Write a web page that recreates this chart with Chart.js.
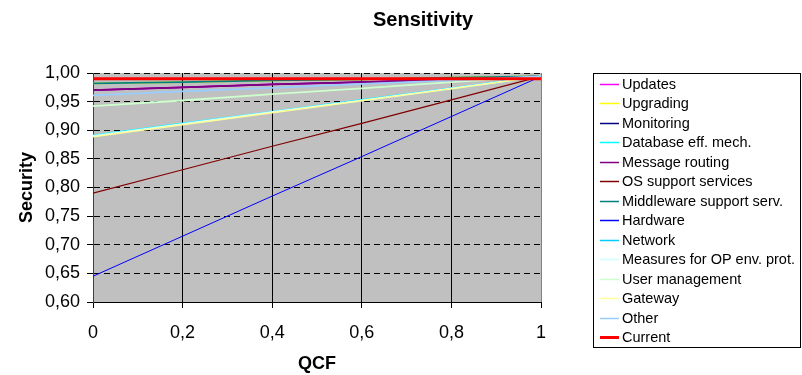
<!DOCTYPE html>
<html>
<head>
<meta charset="utf-8">
<script src="https://cdn.jsdelivr.net/npm/chart.js@4"></script>
<style>
  body { margin: 0; background: #fff; }
  #wrap { width: 802px; height: 375px; position: relative; }
</style>
</head>
<body>
<div id="wrap"><canvas id="sensitivityChart"></canvas></div>
<script>
// QCF positions on the x axis
const qcf = [0, 0.2, 0.4, 0.6, 0.8, 1];

// Security values
const updates = [0.970, 0.975, 0.980, 0.984, 0.989, 0.994];
const upgrading = [0.982, 0.984, 0.987, 0.989, 0.992, 0.994];
const monitoring = [0.970, 0.975, 0.980, 0.984, 0.989, 0.994];
const databaseEff = [0.891, 0.912, 0.932, 0.953, 0.973, 0.994];
const messageRouting = [0.970, 0.975, 0.980, 0.984, 0.989, 0.994];
const osSupport = [0.790, 0.831, 0.872, 0.912, 0.953, 0.994];
const middleware = [0.982, 0.984, 0.987, 0.989, 0.992, 0.994];
const hardware = [0.645, 0.715, 0.785, 0.854, 0.924, 0.994];
const network = [0.890, 0.911, 0.932, 0.952, 0.973, 0.994];
const measuresOp = [0.890, 0.911, 0.932, 0.952, 0.973, 0.994];
const userManagement = [0.942, 0.952, 0.963, 0.973, 0.984, 0.994];
const gateway = [0.8885, 0.9095, 0.9305, 0.9515, 0.9725, 0.994];
const other = [0.961, 0.968, 0.974, 0.981, 0.987, 0.994];
const current = [0.990, 0.990, 0.990, 0.990, 0.990, 0.990];

const seriesNames = ['Updates', 'Upgrading', 'Monitoring', 'Database eff. mech.', 'Message routing',
  'OS support services', 'Middleware support serv.', 'Hardware', 'Network', 'Measures for OP env. prot.',
  'User management', 'Gateway', 'Other', 'Current'];
const seriesValues = [updates, upgrading, monitoring, databaseEff, messageRouting, osSupport, middleware,
  hardware, network, measuresOp, userManagement, gateway, other, current];
const seriesColors = ['#FF00FF', '#FFFF00', '#000080', '#00FFFF', '#800080', '#800000', '#008080',
  '#0000FF', '#00CCFF', '#CCFFFF', '#CCFFCC', '#FFFF99', '#99CCFF', '#FF0000'];
const seriesWidths = [1.8, 1.8, 1.2, 1.8, 1.8, 1.2, 1.8, 1, 1.8, 1.8, 1.8, 1.5, 1.8, 3];

const yTicks = [0.6, 0.65, 0.7, 0.75, 0.8, 0.85, 0.9, 0.95, 1.0];
const xTicks = [0, 0.2, 0.4, 0.6, 0.8, 1];

Chart.defaults.font.family = "'Liberation Sans', Arial, sans-serif";
Chart.defaults.color = '#000';

// later series are painted over earlier ones, like the original
const datasets = seriesNames.map((name, i) => ({
  label: name,
  data: qcf.map((x, j) => ({ x: x, y: seriesValues[i][j] })),
  borderColor: seriesColors[i],
  backgroundColor: seriesColors[i],
  borderWidth: seriesWidths[i],
  order: seriesNames.length - i,
  pointRadius: 0,
  tension: 0
}));

// grey plot area, frame, title and the boxed legend on the right
const excelLook = {
  id: 'excelLook',
  beforeDraw(chart) {
    const { ctx, chartArea: a } = chart;
    ctx.save();
    ctx.fillStyle = '#C0C0C0';
    ctx.fillRect(a.left, a.top, a.right - a.left, a.bottom - a.top);
    ctx.restore();
  },
  afterDatasetsDraw(chart) {
    const { ctx, chartArea: a } = chart;
    ctx.save();
    ctx.strokeStyle = '#808080';
    ctx.lineWidth = 1;
    ctx.beginPath();
    ctx.moveTo(Math.round(a.right) + 0.5, a.top);
    ctx.lineTo(Math.round(a.right) + 0.5, a.bottom);
    ctx.stroke();
    ctx.restore();
  },
  afterDraw(chart) {
    const ctx = chart.ctx;
    ctx.save();
    ctx.fillStyle = '#000';
    ctx.font = "bold 20px 'Liberation Sans', Arial, sans-serif";
    ctx.textAlign = 'center';
    ctx.textBaseline = 'middle';
    ctx.fillText('Sensitivity', 423, 20);

    // legend
    const boxX = 593.5, boxY = 73.5, boxW = 207, boxH = 274;
    ctx.strokeStyle = '#000';
    ctx.lineWidth = 1;
    ctx.strokeRect(boxX, boxY, boxW, boxH);
    ctx.font = "14.5px 'Liberation Sans', Arial, sans-serif";
    ctx.textAlign = 'left';
    chart.data.datasets.forEach((ds, i) => {
      const y = 84 + i * 19.46;
      ctx.strokeStyle = ds.borderColor;
      ctx.lineWidth = ds.borderWidth >= 3 ? 3 : 1.5;
      ctx.beginPath();
      ctx.moveTo(600, Math.round(y) + 0.5);
      ctx.lineTo(619, Math.round(y) + 0.5);
      ctx.stroke();
      ctx.fillStyle = '#000';
      ctx.fillText(ds.label, 622, y + 1);
    });
    ctx.restore();
  }
};

new Chart(document.getElementById('sensitivityChart'), {
  type: 'line',
  data: { datasets: datasets },
  options: {
    responsive: true,
    maintainAspectRatio: false,
    animation: false,
    layout: { padding: { top: 73, right: 261, left: 0, bottom: 0 } },
    plugins: {
      legend: { display: false },
      tooltip: { enabled: false },
      title: { display: false }
    },
    scales: {
      x: {
        type: 'linear',
        min: 0,
        max: 1,
        afterBuildTicks(scale) {
          scale.ticks = xTicks.map(v => ({ value: v }));
        },
        afterFit(scale) { scale.height = 73; },
        ticks: {
          font: { size: 18 },
          padding: 14,
          maxRotation: 0,
          callback: v => String(Math.round(v * 10) / 10).replace('.', ',')
        },
        grid: {
          color: ctx => (ctx.tick && ctx.tick.value === 1 ? '#808080' : '#000'),
          tickColor: '#000',
          tickLength: 6,
          lineWidth: 1
        },
        border: { display: true, color: '#000', width: 1 },
        title: {
          display: true,
          text: 'QCF',
          font: { size: 18, weight: 'bold' },
          padding: { top: 0, bottom: 0 }
        }
      },
      y: {
        type: 'linear',
        min: 0.6,
        max: 1.0,
        afterBuildTicks(scale) {
          scale.ticks = yTicks.map(v => ({ value: v }));
        },
        afterFit(scale) { scale.width = 93; },
        ticks: {
          font: { size: 18 },
          padding: 7,
          callback: v => v.toFixed(2).replace('.', ',')
        },
        grid: {
          color: ctx => (ctx.tick && Math.abs(ctx.tick.value - 0.6) < 1e-6 ? 'rgba(0,0,0,0)' : '#000'),
          tickColor: '#000',
          tickLength: 6,
          lineWidth: 1
        },
        border: { display: true, color: '#404040', width: 1, dash: [6, 4] },
        title: {
          display: true,
          text: 'Security',
          font: { size: 18, weight: 'bold' },
          padding: { top: 16, bottom: 0 }
        }
      }
    }
  },
  plugins: [excelLook]
});
</script>
</body>
</html>
